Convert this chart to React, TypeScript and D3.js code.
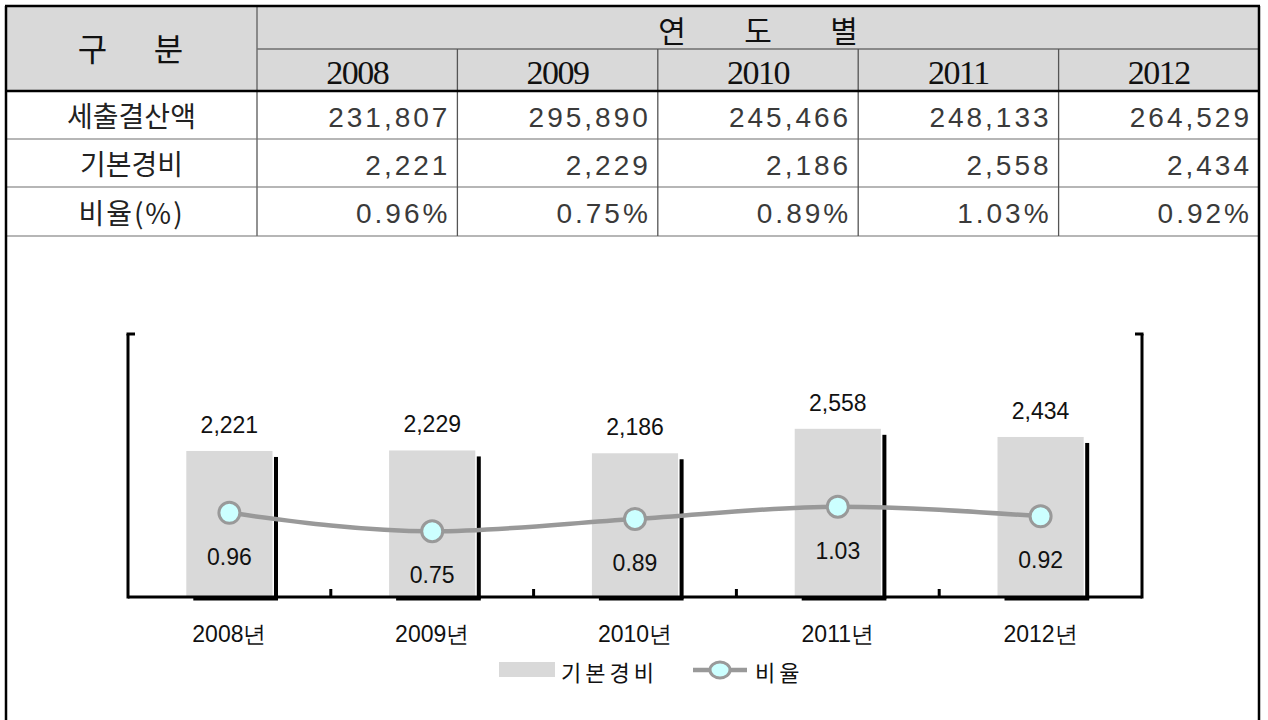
import React from 'react';
import * as d3 from 'd3';

const years = ['2008', '2009', '2010', '2011', '2012'];
const yearLabels = ['2008년', '2009년', '2010년', '2011년', '2012년'];
const settlement = [231807, 295890, 245466, 248133, 264529];
const baseCost = [2221, 2229, 2186, 2558, 2434];
const ratio = [0.96, 0.75, 0.89, 1.03, 0.92];
const rowLabels = ['세출결산액', '기본경비', '비율(%)'];
const headerLeft = ['구', '분'];
const headerTop = ['연', '도', '별'];
const legendLabels = ['기본경비', '비율'];
const barDomain = [0, 4000];
const lineDomain = [0, 3];

const W = 1268;
const H = 720;
const SANS = '"Liberation Sans", Arial, sans-serif';
const KR = '"Noto Sans CJK KR", sans-serif';
const SERIF = '"Liberation Serif", "Times New Roman", serif';

export default function App() {
  // ---------- table ----------
  const tL = 6, tR = 1259, tT = 6;
  const rowY = [6, 49, 91, 139, 187, 236];
  const labelColR = 257;
  const colX = d3.scaleBand<string>().domain(years).range([labelColR, tR]).padding(0);
  const fmt = d3.format(',');
  const rows: string[][] = [
    settlement.map((v) => fmt(v)),
    baseCost.map((v) => fmt(v)),
    ratio.map((v) => v.toFixed(2) + '%'),
  ];

  // ---------- chart ----------
  const cL = 128, cR = 1142, cTop = 334, cBase = 597;
  const x = d3.scaleBand<string>().domain(years).range([cL, cR]).padding(0);
  const barW = x.bandwidth() * 0.425;
  const yBar = d3.scaleLinear().domain(barDomain).range([cBase, cTop]);
  const yLine = d3.scaleLinear().domain(lineDomain).range([cBase, cTop]);
  const cx = (y: string) => (x(y) as number) + x.bandwidth() / 2;
  const linePts: [number, number][] = years.map((yr, i) => [cx(yr), yLine(ratio[i])]);
  const linePath = d3.line().curve(d3.curveMonotoneX)(linePts) || '';

  const headerCenterX = (labelColR + tR) / 2;
  const leftCenterX = (tL + labelColR) / 2;

  return (
    <svg
      width={W}
      height={H}
      style={{ position: 'absolute', left: 0, top: 0, background: '#fff' }}
      xmlns="http://www.w3.org/2000/svg"
    >
      {/* table header background */}
      <rect x={tL} y={rowY[0]} width={tR - tL} height={rowY[2] - rowY[0]} fill="#d9d9d9" />

      {/* inner grid lines */}
      <line x1={labelColR} x2={tR} y1={rowY[1]} y2={rowY[1]} stroke="#6e6e6e" strokeWidth={1.5} />
      {[rowY[3], rowY[4], rowY[5]].map((yy, i) => (
        <line key={'h' + i} x1={tL} x2={tR} y1={yy} y2={yy} stroke="#6e6e6e" strokeWidth={1.2} />
      ))}
      <line x1={labelColR} x2={labelColR} y1={rowY[0]} y2={rowY[5]} stroke="#6e6e6e" strokeWidth={1.5} />
      {years.slice(1).map((yr) => (
        <line
          key={'v' + yr}
          x1={colX(yr) as number}
          x2={colX(yr) as number}
          y1={rowY[1]}
          y2={rowY[5]}
          stroke="#555"
          strokeWidth={1.3}
        />
      ))}
      <line x1={tL} x2={tR} y1={rowY[2]} y2={rowY[2]} stroke="#000" strokeWidth={2.5} />

      {/* outer frame */}
      <line x1={tL - 1} x2={tR + 1} y1={tT} y2={tT} stroke="#000" strokeWidth={2.5} />
      <line x1={tL} x2={tL} y1={tT} y2={H} stroke="#000" strokeWidth={2.5} />
      <line x1={tR} x2={tR} y1={tT} y2={H} stroke="#000" strokeWidth={2.5} />

      {/* header texts */}
      {headerLeft.map((c, i) => (
        <text
          key={'hl' + i}
          x={leftCenterX + (i === 0 ? -39 : 37)}
          y={rowY[0] + 41}
          fontFamily={KR}
          fontSize={32}
          fill="#111"
          textAnchor="middle"
          dominantBaseline="central"
        >
          {c}
        </text>
      ))}
      {headerTop.map((c, i) => (
        <text
          key={'ht' + i}
          x={headerCenterX + (i - 1) * 86}
          y={(rowY[0] + rowY[1]) / 2 + 1}
          fontFamily={KR}
          fontSize={30}
          fill="#111"
          textAnchor="middle"
          dominantBaseline="central"
        >
          {c}
        </text>
      ))}
      {years.map((yr) => (
        <text
          key={'yh' + yr}
          x={(colX(yr) as number) + colX.bandwidth() / 2}
          y={(rowY[1] + rowY[2]) / 2 + 2}
          fontFamily={SERIF}
          fontSize={34}
          letterSpacing={-1.5}
          fill="#111"
          textAnchor="middle"
          dominantBaseline="central"
        >
          {yr}
        </text>
      ))}

      {/* row labels and values */}
      {rowLabels.map((lab, r) => (
        <g key={'row' + r}>
          <text
            x={leftCenterX}
            y={(rowY[r + 2] + rowY[r + 3]) / 2}
            fontFamily={KR}
            fontSize={28}
            letterSpacing={r === 2 ? 2 : 0}
            fill="#222"
            textAnchor="middle"
            dominantBaseline="central"
          >
            {lab}
          </text>
          {rows[r].map((v, c) => (
            <text
              key={'cell' + r + c}
              x={(colX(years[c]) as number) + colX.bandwidth() - 7}
              y={(rowY[r + 2] + rowY[r + 3]) / 2 + 2}
              fontFamily={SANS}
              fontSize={28}
              letterSpacing={3}
              fill="#3a3a3a"
              textAnchor="end"
              dominantBaseline="central"
            >
              {v}
            </text>
          ))}
        </g>
      ))}

      {/* ---------- chart ---------- */}
      {/* bars */}
      {years.map((yr, i) => {
        const bx = cx(yr) - barW / 2;
        const by = yBar(baseCost[i]);
        return (
          <g key={'bar' + yr}>
            <rect x={bx} y={by} width={barW} height={cBase - by} fill="#d9d9d9" />
            <rect x={bx + barW + 1.5} y={by + 6} width={4} height={cBase - by - 4} fill="#000" />
            <rect x={bx + 7} y={cBase} width={barW - 1.5} height={3.5} fill="#000" />
            <text
              x={cx(yr)}
              y={by - 18}
              fontFamily={SANS}
              fontSize={23}
              fill="#111"
              textAnchor="middle"
            >
              {fmt(baseCost[i])}
            </text>
          </g>
        );
      })}

      {/* axes: baseline, brackets, ticks */}
      <line x1={cL} x2={cR} y1={cBase} y2={cBase} stroke="#000" strokeWidth={3} />
      <line x1={cL} x2={cL} y1={cTop} y2={cBase + 1.5} stroke="#000" strokeWidth={3} />
      <line x1={cL - 1.5} x2={cL + 7} y1={cTop} y2={cTop} stroke="#000" strokeWidth={3} />
      <line x1={cR} x2={cR} y1={cTop} y2={cBase + 1.5} stroke="#000" strokeWidth={3} />
      <line x1={cR - 7} x2={cR + 1.5} y1={cTop} y2={cTop} stroke="#000" strokeWidth={3} />
      {years.slice(1).map((yr) => (
        <line
          key={'tk' + yr}
          x1={x(yr) as number}
          x2={x(yr) as number}
          y1={cBase - 8}
          y2={cBase}
          stroke="#000"
          strokeWidth={3}
        />
      ))}

      {/* ratio line */}
      <path d={linePath} fill="none" stroke="#999" strokeWidth={4.5} strokeLinejoin="round" />
      {linePts.map(([px, py], i) => (
        <g key={'pt' + i}>
          <circle cx={px} cy={py} r={10.5} fill="#ccffff" stroke="#999" strokeWidth={3} />
          <text
            x={px}
            y={py + 52}
            fontFamily={SANS}
            fontSize={23}
            fill="#111"
            textAnchor="middle"
          >
            {ratio[i].toFixed(2)}
          </text>
        </g>
      ))}

      {/* x labels */}
      {years.map((yr, i) => (
        <text
          key={'xl' + yr}
          x={cx(yr)}
          y={642}
          fontFamily={SANS}
          fontSize={23}
          fill="#111"
          textAnchor="middle"
        >
          {yearLabels[i]}
        </text>
      ))}

      {/* legend */}
      <rect x={499} y={662} width={56} height={15} fill="#d9d9d9" />
      <text x={561} y={671} fontFamily={KR} fontSize={22} letterSpacing={4} fill="#111" dominantBaseline="central">
        {legendLabels[0]}
      </text>
      <line x1={693} x2={747} y1={670} y2={670} stroke="#999" strokeWidth={4.5} />
      <ellipse cx={720} cy={670} rx={10} ry={8} fill="#ccffff" stroke="#999" strokeWidth={3} />
      <text x={755} y={671} fontFamily={KR} fontSize={22} letterSpacing={4} fill="#111" dominantBaseline="central">
        {legendLabels[1]}
      </text>
    </svg>
  );
}
